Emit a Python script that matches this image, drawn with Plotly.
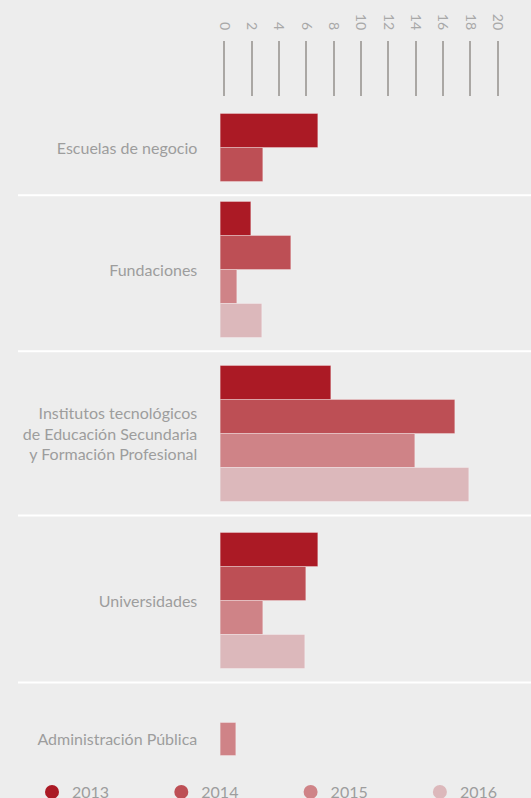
import plotly.graph_objects as go

# ---------------- data ----------------
categories = [
    "Escuelas de negocio",
    "Fundaciones",
    "Institutos tecnológicos<br>de Educación Secundaria<br>y Formación Profesional",
    "Universidades",
    "Administración Pública",
]
years = ["2013", "2014", "2015", "2016"]
v2013 = [7.17, 2.27, 8.10, 7.17, None]
v2014 = [3.15, 5.19, 17.19, 6.29, None]
v2015 = [None, 1.22, 14.27, 3.15, 1.17]
v2016 = [None, 3.07, 18.22, 6.22, None]
tick_values = [0, 2, 4, 6, 8, 10, 12, 14, 16, 18, 20]

series = [v2013, v2014, v2015, v2016]
colors = ["#ab1a25", "#bd4f55", "#cf8387", "#dcb8bb"]

# ---------------- layout constants ----------------
W, H = 531, 798
BG = "#ededed"
TXT = "#9d9d9d"
FONT = "Lato"
SLOT_PX = 33.9          # height of one bar slot in px
FIRST_BAR_PX = 114      # top of first bar
PLOT_TOP_PX = 97
PLOT_BOT_PX = 770
PLOT_LEFT_PX = 220.3
PX_PER_UNIT = 13.67
TICK_SHIFT_PX = 4.0
GROUP_GAPS = [0.6, 0.84, 0.93, 1.58]   # gaps between groups (slot units)
SEP_OFFSET = 0.4
LEG_X0_PX = 32
LEG_DX_PX = 129.3
LEG_Y_PX = 792

# group geometry computed from data
counts = [sum(1 for s in series if s[i] is not None) for i in range(len(categories))]
starts = []
pos = 0.0
for i, n in enumerate(counts):
    starts.append(pos)
    pos += n + (GROUP_GAPS[i] if i < len(GROUP_GAPS) else 0)
ends = [s + n for s, n in zip(starts, counts)]
centers = [(s + e) / 2 for s, e in zip(starts, ends)]

slot_y = {}
for i in range(len(categories)):
    k = 0
    for j, s in enumerate(series):
        if s[i] is not None:
            slot_y[(i, j)] = starts[i] + k + 0.5
            k += 1

fig = go.Figure()
legend_layouts = {}
for j, (yr, s, c) in enumerate(zip(years, series, colors)):
    xs, ys = [], []
    for i, v in enumerate(s):
        if v is not None:
            xs.append(v)
            ys.append(slot_y[(i, j)])
    fig.add_trace(go.Bar(
        x=xs, y=ys, orientation="h", width=1.0,
        marker=dict(color=c, line=dict(width=1, color="rgba(255,255,255,0.3)")),
        showlegend=False, hoverinfo="x", name=yr,
    ))
    lname = "legend" if j == 0 else f"legend{j + 1}"
    fig.add_trace(go.Scatter(
        x=[None], y=[None], mode="markers", name=yr,
        marker=dict(symbol="circle", size=14, color=c),
        showlegend=True, legend=lname,
    ))
    legend_layouts[lname] = dict(
        orientation="h", x=(LEG_X0_PX + j * LEG_DX_PX) / W, xanchor="left",
        y=(H - LEG_Y_PX) / H, yanchor="middle",
        font=dict(size=16, color=TXT, family=FONT),
        bgcolor="rgba(0,0,0,0)",
    )

# invisible trace to anchor the top tick axis
fig.add_trace(go.Scatter(x=[0], y=[0], xaxis="x2", mode="markers",
                         marker=dict(opacity=0), showlegend=False, hoverinfo="skip"))

x_span = (W - PLOT_LEFT_PX) / PX_PER_UNIT
x2_start = -TICK_SHIFT_PX / PX_PER_UNIT

y_top = (PLOT_TOP_PX - FIRST_BAR_PX) / SLOT_PX
y_bot = (PLOT_BOT_PX - FIRST_BAR_PX) / SLOT_PX

shapes = []
for e in ends[:-1]:
    shapes.append(dict(type="line", xref="paper", yref="y",
                       x0=18 / W, x1=1, y0=e + SEP_OFFSET, y1=e + SEP_OFFSET,
                       line=dict(color="#ffffff", width=2), layer="below"))

fig.update_layout(
    width=W, height=H,
    paper_bgcolor=BG, plot_bgcolor=BG,
    margin=dict(l=0, r=0, t=0, b=0, autoexpand=False),
    font=dict(family=FONT, color=TXT, size=15),
    bargap=0,
    shapes=shapes,
    xaxis=dict(domain=[PLOT_LEFT_PX / W, 1], range=[0, x_span],
               showgrid=False, zeroline=False, showline=False,
               showticklabels=False, ticks=""),
    xaxis2=dict(overlaying="x", side="top", anchor="y",
                range=[x2_start, x2_start + x_span],
                tickmode="array", tickvals=tick_values,
                ticktext=[str(t) for t in tick_values],
                tickangle=90, ticks="outside", ticklen=55, tickwidth=2,
                tickcolor="#aaa7a4", ticklabelstandoff=6,
                tickfont=dict(size=14, color="#a8a8a8", family=FONT),
                showgrid=False, zeroline=False, showline=False, automargin=False),
    yaxis=dict(domain=[1 - PLOT_BOT_PX / H, 1 - PLOT_TOP_PX / H],
               range=[y_bot, y_top],
               tickmode="array", tickvals=centers, ticktext=categories,
               ticks="", ticklabelstandoff=22,
               tickfont=dict(size=16, color=TXT, family=FONT),
               showgrid=False, zeroline=False, showline=False, automargin=False),
    **legend_layouts,
)

fig.write_html("out.html", config={"displayModeBar": False},
               post_script="document.body.style.margin='0';")
